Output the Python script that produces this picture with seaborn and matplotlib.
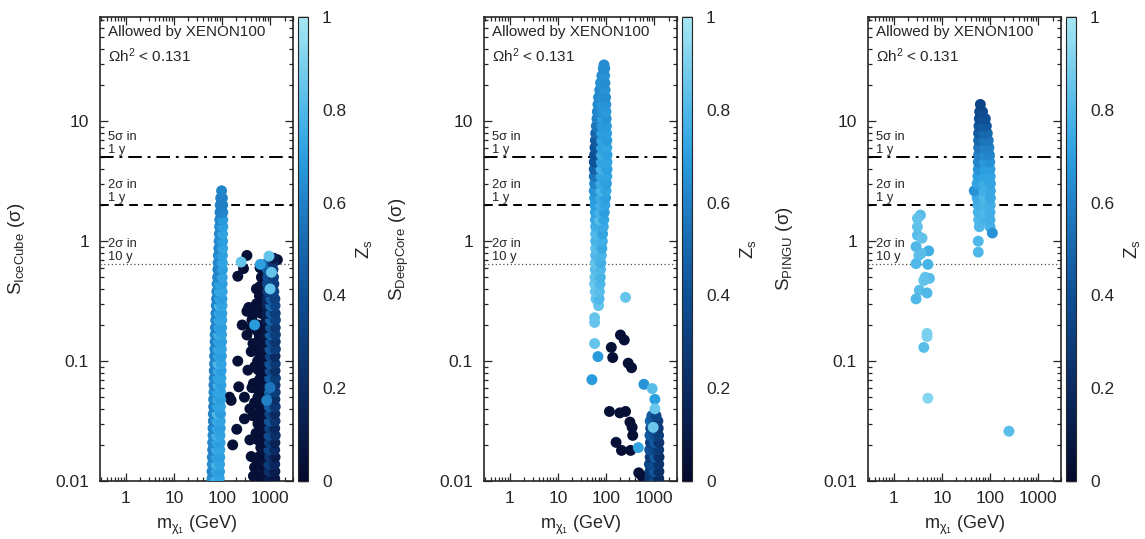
import pandas as pd
import matplotlib
matplotlib.use('Agg')
import matplotlib.pyplot as plt
import seaborn as sns
from matplotlib.colors import LinearSegmentedColormap, Normalize
from matplotlib.cm import ScalarMappable
from matplotlib.ticker import LogLocator, NullFormatter, FixedLocator, FixedFormatter

# ---------------- data (m_chi1 [GeV], S [sigma], Z_s) ----------------
# panel 1: IceCube
p1_band = [
    (62, 0.0105, 0.64), (75, 0.0105, 0.76), (88, 0.0105, 0.72),
    (62, 0.012, 0.62), (76, 0.012, 0.72), (89, 0.012, 0.70),
    (63, 0.0138, 0.64), (76, 0.0138, 0.78), (89, 0.0138, 0.72),
    (63, 0.0158, 0.62), (77, 0.0158, 0.72), (90, 0.0158, 0.70),
    (64, 0.0182, 0.60), (77, 0.0182, 0.74), (90, 0.0182, 0.72),
    (64, 0.0209, 0.62), (78, 0.0209, 0.72), (91, 0.0209, 0.70),
    (65, 0.024, 0.64), (78, 0.024, 0.78), (91, 0.024, 0.72),
    (65, 0.0275, 0.62), (79, 0.0275, 0.72), (92, 0.0275, 0.70),
    (66, 0.0316, 0.60), (79, 0.0316, 0.74), (92, 0.0316, 0.72),
    (66, 0.0363, 0.62), (80, 0.0363, 0.80), (93, 0.0363, 0.70),
    (67, 0.0417, 0.60), (80, 0.0417, 0.72), (93, 0.0417, 0.72),
    (67, 0.0479, 0.62), (81, 0.0479, 0.74), (94, 0.0479, 0.70),
    (68, 0.055, 0.64), (81, 0.055, 0.72), (94, 0.055, 0.72),
    (68, 0.063, 0.60), (82, 0.063, 0.76), (95, 0.063, 0.70),
    (69, 0.072, 0.62), (82, 0.072, 0.72), (95, 0.072, 0.72),
    (69, 0.083, 0.60), (83, 0.083, 0.74), (96, 0.083, 0.70),
    (70, 0.095, 0.62), (83, 0.095, 0.80), (96, 0.095, 0.72),
    (70, 0.11, 0.60), (84, 0.11, 0.72), (97, 0.11, 0.70),
    (71, 0.126, 0.62), (84, 0.126, 0.74), (97, 0.126, 0.72),
    (72, 0.145, 0.60), (85, 0.145, 0.72), (98, 0.145, 0.70),
    (72, 0.166, 0.62), (85, 0.166, 0.76), (98, 0.166, 0.72),
    (73, 0.19, 0.60), (86, 0.19, 0.72), (98, 0.19, 0.70),
    (74, 0.22, 0.62), (87, 0.22, 0.74), (99, 0.22, 0.72),
    (75, 0.25, 0.60), (87, 0.25, 0.72), (99, 0.25, 0.70),
    (76, 0.29, 0.62), (88, 0.29, 0.78), (100, 0.29, 0.72),
    (77, 0.33, 0.60), (89, 0.33, 0.72), (100, 0.33, 0.70),
    (78, 0.38, 0.62), (89, 0.38, 0.74), (101, 0.38, 0.72),
    (79, 0.44, 0.64), (90, 0.44, 0.72), (101, 0.44, 0.70),
    (81, 0.50, 0.62), (101, 0.50, 0.72),
    (82, 0.58, 0.60), (102, 0.58, 0.70),
    (83, 0.66, 0.62), (102, 0.66, 0.72),
    (84, 0.76, 0.64), (102, 0.76, 0.70),
    (86, 0.87, 0.62), (103, 0.87, 0.72),
    (87, 1.0, 0.64), (103, 1.0, 0.70),
    (88, 1.15, 0.62), (103, 1.15, 0.72),
    (89, 1.32, 0.64), (104, 1.32, 0.70),
    (90, 1.51, 0.62), (104, 1.51, 0.68),
    (91, 1.74, 0.60), (104, 1.74, 0.62),
    (92, 2.0, 0.60), (103, 2.0, 0.60),
    (94, 2.29, 0.60), (102, 2.29, 0.60),
    (98, 2.63, 0.62),
]
p1_dark = [
    (330, 0.76), (280, 0.59), (213, 0.51), (360, 0.28), (330, 0.26), (263, 0.20),
    (330, 0.165), (440, 0.14), (405, 0.12), (213, 0.10), (346, 0.084), (480, 0.09),
    (223, 0.061), (450, 0.065), (143, 0.05), (155, 0.047), (293, 0.05), (476, 0.045),
    (380, 0.04), (293, 0.033), (203, 0.027), (510, 0.025), (167, 0.020), (380, 0.022),
    (560, 0.022), (405, 0.016), (520, 0.015), (476, 0.013), (600, 0.013), (450, 0.011),
    (560, 0.011), (420, 0.22), (520, 0.30), (550, 0.10), (560, 0.05), (530, 0.18),
    (600, 0.35), (620, 0.6), (580, 0.032), (600, 0.07), (640, 0.14), (650, 0.25),
    (620, 0.42), (1420, 0.70),
    (600, 0.016), (640, 0.019), (620, 0.027), (560, 0.030), (500, 0.036), (640, 0.040),
    (600, 0.055), (520, 0.060), (640, 0.080), (560, 0.085), (620, 0.11), (500, 0.13),
    (600, 0.16), (560, 0.20), (640, 0.30), (520, 0.40), (440, 0.035), (420, 0.060),
    (660, 0.50), (400, 0.19), (460, 0.25),
]
p1_cluster = [
    (700, 0.0105, 0.03), (950, 0.0105, 0.12), (1250, 0.0105, 0.08),
    (720, 0.012, 0.05), (960, 0.012, 0.22), (1260, 0.012, 0.12),
    (700, 0.0138, 0.04), (940, 0.0138, 0.30), (1250, 0.0138, 0.18),
    (720, 0.0158, 0.03), (980, 0.0158, 0.25), (1270, 0.0158, 0.12),
    (700, 0.0182, 0.05), (950, 0.0182, 0.35), (1250, 0.0182, 0.20),
    (730, 0.0209, 0.04), (970, 0.0209, 0.30), (1260, 0.0209, 0.15),
    (710, 0.024, 0.03), (950, 0.024, 0.38), (1280, 0.024, 0.22),
    (730, 0.0275, 0.05), (980, 0.0275, 0.32), (1250, 0.0275, 0.18),
    (720, 0.0316, 0.04), (960, 0.0316, 0.42), (1270, 0.0316, 0.25),
    (740, 0.0363, 0.03), (990, 0.0363, 0.36), (1260, 0.0363, 0.20),
    (730, 0.0417, 0.05), (960, 0.0417, 0.45), (1280, 0.0417, 0.28),
    (750, 0.0479, 0.04), (990, 0.0479, 0.38), (1260, 0.0479, 0.22),
    (740, 0.055, 0.03), (970, 0.055, 0.48), (1280, 0.055, 0.30),
    (760, 0.063, 0.05), (1000, 0.063, 0.40), (1270, 0.063, 0.25),
    (750, 0.072, 0.04), (980, 0.072, 0.45), (1290, 0.072, 0.30),
    (770, 0.083, 0.03), (1000, 0.083, 0.38), (1270, 0.083, 0.22),
    (760, 0.095, 0.05), (990, 0.095, 0.42), (1280, 0.095, 0.28),
    (780, 0.11, 0.04), (1010, 0.11, 0.36), (1270, 0.11, 0.20),
    (780, 0.126, 0.06), (1000, 0.126, 0.44), (1290, 0.126, 0.30),
    (800, 0.145, 0.05), (1020, 0.145, 0.40), (1280, 0.145, 0.25),
    (800, 0.166, 0.08), (1010, 0.166, 0.46), (1290, 0.166, 0.30),
    (820, 0.19, 0.06), (1030, 0.19, 0.42), (1280, 0.19, 0.28),
    (830, 0.22, 0.10), (1020, 0.22, 0.48), (1290, 0.22, 0.32),
    (850, 0.25, 0.12), (1040, 0.25, 0.44), (1280, 0.25, 0.30),
    (860, 0.29, 0.15), (1030, 0.29, 0.50), (1270, 0.29, 0.35),
    (880, 0.33, 0.20), (1050, 0.33, 0.46), (1260, 0.33, 0.32),
    (900, 0.38, 0.30), (1200, 0.38, 0.35),
    (880, 0.44, 0.35), (1200, 0.44, 0.30),
    (900, 0.50, 0.40), (1180, 0.50, 0.32),
    (870, 0.58, 0.45), (1150, 0.58, 0.30),
    (880, 0.66, 0.50), (1150, 0.66, 0.25),
    (1200, 0.72, 0.12),
]
p1_light = [
    (250, 0.67, 0.85), (627, 0.64, 0.70), (950, 0.75, 0.85), (1070, 0.55, 0.85),
    (1000, 0.40, 0.85), (476, 0.20, 0.68), (850, 0.047, 0.60), (1000, 0.06, 0.55),
]

# panel 2: DeepCore
p2_band = [
    (70, 0.29, 0.85),
    (62, 0.33, 0.85), (72, 0.33, 0.80),
    (60, 0.38, 0.85), (73, 0.38, 0.82),
    (58, 0.44, 0.86), (75, 0.44, 0.80),
    (59, 0.50, 0.84), (76, 0.50, 0.78),
    (60, 0.58, 0.82), (77, 0.58, 0.80),
    (60, 0.66, 0.84), (78, 0.66, 0.76),
    (61, 0.76, 0.80), (80, 0.76, 0.78),
    (61, 0.87, 0.82), (82, 0.87, 0.74),
    (61, 1.0, 0.78), (84, 1.0, 0.76),
    (61, 1.15, 0.80), (85, 1.15, 0.72),
    (61, 1.32, 0.76), (88, 1.32, 0.74),
    (60, 1.51, 0.74), (73, 1.51, 0.82), (90, 1.51, 0.72),
    (60, 1.74, 0.72), (75, 1.74, 0.78), (92, 1.74, 0.70),
    (59, 2.0, 0.70), (76, 2.0, 0.76), (95, 2.0, 0.72),
    (58, 2.29, 0.68), (77, 2.29, 0.74), (98, 2.29, 0.70),
    (57, 2.63, 0.66), (78, 2.63, 0.78), (100, 2.63, 0.72),
    (58, 3.02, 0.62), (78, 3.02, 0.74), (102, 3.02, 0.70),
    (57, 3.47, 0.55), (79, 3.47, 0.72), (104, 3.47, 0.72),
    (57, 3.98, 0.48), (79, 3.98, 0.76), (105, 3.98, 0.70),
    (57, 4.57, 0.42), (80, 4.57, 0.72), (105, 4.57, 0.72),
    (58, 5.25, 0.40), (80, 5.25, 0.74), (105, 5.25, 0.70),
    (59, 6.03, 0.42), (80, 6.03, 0.70), (104, 6.03, 0.72),
    (60, 6.92, 0.45), (81, 6.92, 0.72), (104, 6.92, 0.68),
    (61, 7.94, 0.50), (81, 7.94, 0.70), (103, 7.94, 0.70),
    (63, 9.12, 0.56), (82, 9.12, 0.68), (102, 9.12, 0.68),
    (65, 10.5, 0.60), (83, 10.5, 0.70), (101, 10.5, 0.66),
    (66, 12.0, 0.62), (84, 12.0, 0.66), (100, 12.0, 0.68),
    (68, 13.8, 0.64), (85, 13.8, 0.68), (99, 13.8, 0.66),
    (70, 15.8, 0.64), (85, 15.8, 0.66), (98, 15.8, 0.64),
    (74, 18.2, 0.64), (96, 18.2, 0.66),
    (77, 20.9, 0.66), (95, 20.9, 0.64),
    (82, 24.0, 0.64), (94, 24.0, 0.66),
    (88, 27.5, 0.64), (94, 27.5, 0.64),
    (91, 29.5, 0.64),
]
p2_dark = [
    (200, 0.165), (240, 0.15), (129, 0.13), (138, 0.107), (290, 0.096), (340, 0.088),
    (118, 0.038), (194, 0.037), (255, 0.038), (315, 0.031), (350, 0.028), (360, 0.024),
    (162, 0.021), (210, 0.018), (325, 0.018), (480, 0.0117), (560, 0.011),
]
p2_cluster = [
    (800, 0.0105, 0.25), (1000, 0.0105, 0.35), (1250, 0.0105, 0.20),
    (820, 0.012, 0.30), (1020, 0.012, 0.42), (1260, 0.012, 0.22),
    (800, 0.0138, 0.35), (1000, 0.0138, 0.38), (1250, 0.0138, 0.25),
    (830, 0.0158, 0.28), (1030, 0.0158, 0.45), (1270, 0.0158, 0.22),
    (810, 0.0182, 0.40), (1000, 0.0182, 0.36), (1250, 0.0182, 0.28),
    (840, 0.0209, 0.32), (1030, 0.0209, 0.44), (1260, 0.0209, 0.25),
    (820, 0.024, 0.45), (1010, 0.024, 0.40), (1240, 0.024, 0.30),
    (850, 0.0275, 0.38), (1040, 0.0275, 0.48), (1220, 0.0275, 0.28),
    (830, 0.0316, 0.50), (1020, 0.0316, 0.42), (1200, 0.0316, 0.30),
    (900, 0.035, 0.45), (1100, 0.035, 0.35),
]
p2_light = [
    (255, 0.34, 0.85), (58, 0.23, 0.85), (58, 0.21, 0.85), (58, 0.14, 0.85),
    (68, 0.109, 0.68), (51, 0.070, 0.68), (615, 0.064, 0.66), (915, 0.059, 0.82),
    (1040, 0.048, 0.70), (1040, 0.040, 0.86), (470, 0.019, 0.72), (960, 0.028, 0.86),
]

# panel 3: PINGU
p3_band = [
    (60, 1.32, 0.80), (100, 1.32, 0.78),
    (58, 1.51, 0.80), (78, 1.51, 0.78), (100, 1.51, 0.76),
    (57, 1.74, 0.78), (76, 1.74, 0.80), (100, 1.74, 0.76),
    (56, 2.0, 0.76), (77, 2.0, 0.78), (101, 2.0, 0.76),
    (54, 2.29, 0.74), (76, 2.29, 0.80), (102, 2.29, 0.74),
    (47, 2.63, 0.66), (75, 2.63, 0.76), (102, 2.63, 0.74),
    (54, 3.02, 0.72), (76, 3.02, 0.76), (102, 3.02, 0.72),
    (56, 3.47, 0.70), (76, 3.47, 0.72), (101, 3.47, 0.72),
    (57, 3.98, 0.66), (77, 3.98, 0.70), (100, 3.98, 0.70),
    (57, 4.57, 0.62), (77, 4.57, 0.68), (99, 4.57, 0.66),
    (58, 5.25, 0.60), (77, 5.25, 0.64), (97, 5.25, 0.62),
    (58, 6.03, 0.56), (76, 6.03, 0.60), (95, 6.03, 0.60),
    (58, 6.92, 0.50), (75, 6.92, 0.56), (92, 6.92, 0.56),
    (58, 7.94, 0.45), (74, 7.94, 0.50), (88, 7.94, 0.50),
    (59, 9.12, 0.42), (73, 9.12, 0.46), (84, 9.12, 0.44),
    (60, 10.5, 0.38), (72, 10.5, 0.42), (80, 10.5, 0.40),
    (61, 12.0, 0.36), (70, 12.0, 0.38),
    (63, 13.8, 0.34),
]
p3_points = [
    (112, 1.17, 0.66), (57, 1.0, 0.80), (57, 0.81, 0.80),
    (3.57, 1.65, 0.82), (3.1, 1.55, 0.84), (3.1, 1.32, 0.84), (3.1, 1.12, 0.82),
    (3.86, 1.06, 0.84), (2.9, 0.90, 0.80), (5.3, 0.83, 0.76), (3.3, 0.76, 0.84),
    (3.7, 0.79, 0.82), (2.9, 0.65, 0.80), (5.1, 0.64, 0.78), (4.5, 0.50, 0.84),
    (5.5, 0.49, 0.82), (4.2, 0.47, 0.84), (3.4, 0.39, 0.82), (4.9, 0.37, 0.80),
    (2.9, 0.33, 0.80), (4.9, 0.17, 0.90), (4.9, 0.16, 0.90), (4.2, 0.13, 0.82),
    (5.1, 0.049, 0.92), (248, 0.026, 0.82),
]

thresholds = [5.0, 2.0, 0.64]
threshold_labels = ['5σ in\n1 y', '2σ in\n1 y', '2σ in\n10 y']
threshold_styles = [(0, (7, 3, 1.5, 3)), (0, (4.5, 3)), (0, (1, 2))]
threshold_widths = [1.4, 1.4, 0.9]
ylabels = ['$S_{IceCube}$ (σ)', '$S_{DeepCore}$ (σ)', '$S_{PINGU}$ (σ)']
xtick_vals = [1, 10, 100, 1000]
xtick_labels = ['1', '10', '100', '1000']
ytick_vals = [0.01, 0.1, 1, 10]
ytick_labels = ['0.01', '0.1', '1', '10']
cbar_ticks = [0, 0.2, 0.4, 0.6, 0.8, 1]
cbar_labels = ['0', '0.2', '0.4', '0.6', '0.8', '1']


def to_frame(*groups):
    rows = []
    for g in groups:
        for r in g:
            if len(r) == 2:
                rows.append((r[0], r[1], 0.03))
            else:
                rows.append(r)
    return pd.DataFrame(rows, columns=['m', 'S', 'Z'])


panels = [
    to_frame(p1_dark, p1_cluster, p1_band, p1_light),
    to_frame(p2_dark, p2_cluster, p2_band, p2_light),
    to_frame(p3_band, p3_points),
]

# ---------------- style ----------------
sns.set_style('ticks')
plt.rcParams['font.family'] = ['Liberation Sans', 'DejaVu Sans']
plt.rcParams['mathtext.default'] = 'regular'

cmap = LinearSegmentedColormap.from_list('zs', [
    (0.0, '#050a2e'), (0.2, '#0b2b62'), (0.4, '#0e4f95'),
    (0.6, '#2180c6'), (0.7, '#2b9fe0'), (0.8, '#4fb8e8'), (1.0, '#a6e8f3'),
])
norm = Normalize(0, 1)

fig = plt.figure(figsize=(11.45, 5.39), dpi=100)
W, H = 1145, 539
ax_left = [100, 484, 868]
ax_w = 193
cb_left = [298, 682, 1066]
cb_w = 10
top_px, bot_px = 17, 481

for i, df in enumerate(panels):
    ax = fig.add_axes([ax_left[i] / W, 1 - bot_px / H, ax_w / W, (bot_px - top_px) / H])
    cax = fig.add_axes([cb_left[i] / W, 1 - bot_px / H, cb_w / W, (bot_px - top_px) / H])

    sns.scatterplot(data=df, x='m', y='S', hue='Z', hue_norm=(0, 1), palette=cmap,
                    s=62, linewidth=0, legend=False, ax=ax, zorder=3)
    ax.set_xscale('log')
    ax.set_yscale('log')
    ax.set_xlim(0.29, 3000)
    ax.set_ylim(0.01, 74)

    for t, lab, ls, lw in zip(thresholds, threshold_labels, threshold_styles, threshold_widths):
        ax.axhline(t, color='k' if lw > 1 else '0.3', linestyle=ls, linewidth=lw, zorder=2)
        ax.text(0.04, t * 1.02, lab, transform=ax.get_yaxis_transform(), fontsize=9.3,
                va='bottom', ha='left', linespacing=1.1, zorder=4)

    ax.text(0.04, 0.983, 'Allowed by XENON100', transform=ax.transAxes, fontsize=11,
            va='top', ha='left')
    ax.text(0.04, 0.937, 'Ωh$^2$ < 0.131', transform=ax.transAxes, fontsize=11,
            va='top', ha='left')

    ax.xaxis.set_major_locator(FixedLocator(xtick_vals))
    ax.xaxis.set_major_formatter(FixedFormatter(xtick_labels))
    ax.yaxis.set_major_locator(FixedLocator(ytick_vals))
    ax.yaxis.set_major_formatter(FixedFormatter(ytick_labels))
    for axis in (ax.xaxis, ax.yaxis):
        axis.set_minor_locator(LogLocator(base=10, subs=range(2, 10), numticks=20))
        axis.set_minor_formatter(NullFormatter())
    ax.tick_params(which='both', direction='in', top=True, right=True, width=0.9,
                   labelsize=12.5)
    ax.tick_params(axis='y', which='both', pad=8)
    ax.tick_params(axis='x', which='both', pad=7)
    ax.tick_params(which='major', length=6)
    ax.tick_params(which='minor', length=3)
    for sp in ax.spines.values():
        sp.set_linewidth(1.2)

    ax.set_xlabel(r'$m_{\chi_1}$ (GeV)', fontsize=13)
    ax.set_ylabel(ylabels[i], fontsize=13.5)
    ax.xaxis.set_label_coords(0.5, -0.07)
    ax.yaxis.set_label_coords(-0.38, 0.5)

    cb = fig.colorbar(ScalarMappable(norm=norm, cmap=cmap), cax=cax)
    cb.set_ticks(cbar_ticks)
    cb.set_ticklabels(cbar_labels)
    cb.ax.tick_params(direction='in', length=7.5, width=1.0, color='k',
                      labelsize=12.5, pad=10)
    cb.outline.set_linewidth(0.8)
    cax.text(6.6, 0.5, '$Z_s$', transform=cax.transAxes, rotation=90,
             fontsize=13.5, va='center', ha='center')

fig.savefig('out.png', dpi=100)
